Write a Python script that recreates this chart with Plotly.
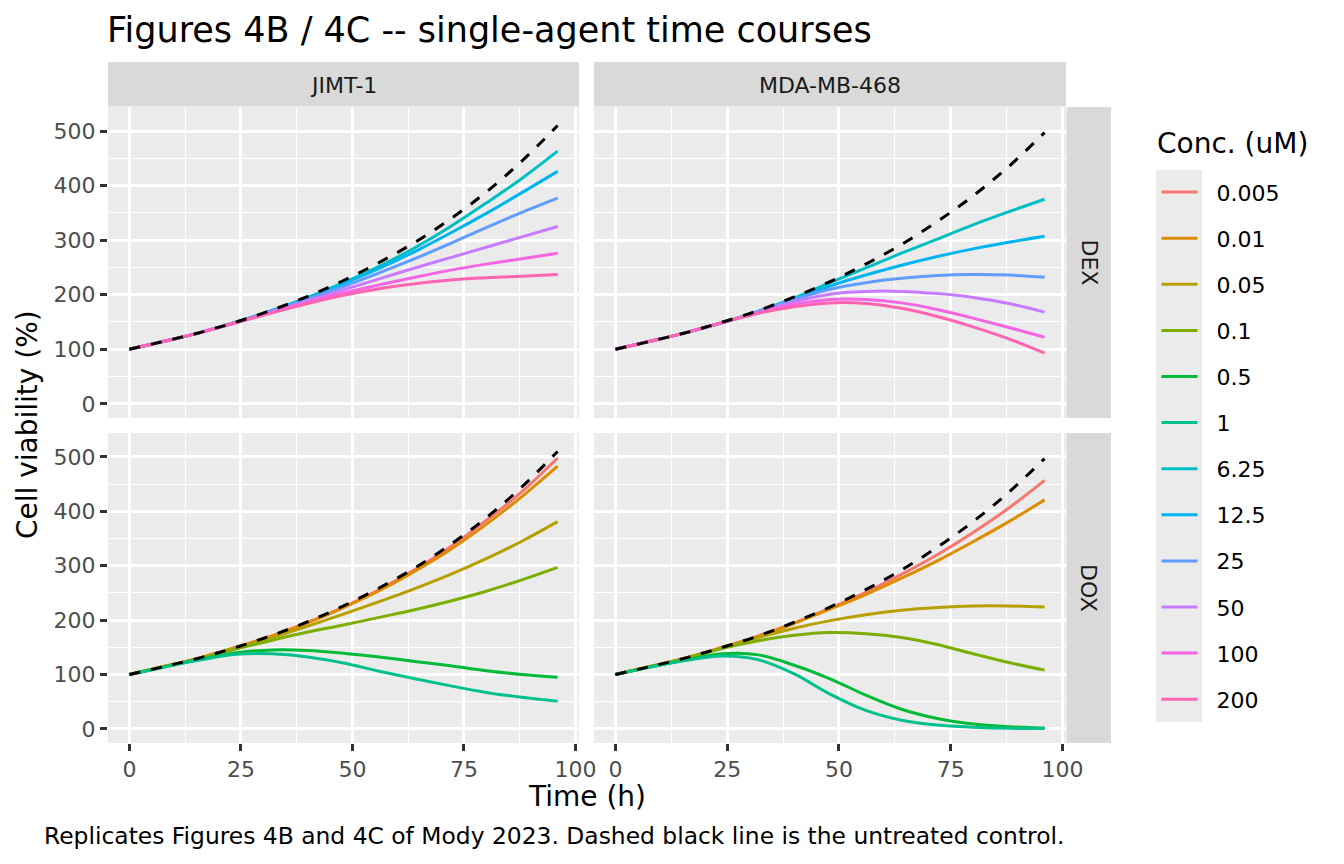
import plotly.graph_objects as go

# time points (h)
time_h = [0, 8, 16, 24, 32, 40, 48, 56, 64, 72, 80, 88, 96]

conc_labels = ["0.005", "0.01", "0.05", "0.1", "0.5", "1",
               "6.25", "12.5", "25", "50", "100", "200"]
conc_colors = ["#F8766D", "#DE8C00", "#B79F00", "#7CAE00", "#00BA38", "#00C08B",
               "#00BFC4", "#00B4F0", "#619CFF", "#C77CFF", "#F564E3", "#FF64B0"]

# untreated controls
jimt_control = [100, 115, 131, 150, 172, 197, 226, 259, 296, 339, 388, 445, 510]
mda_control = [100, 115, 131, 150, 171, 196, 224, 256, 292, 334, 381, 435, 497]

# JIMT-1, DEX
jimt_dex = {
    "6.25": [100, 115, 131, 150, 171, 195, 222, 252, 286, 325, 368, 413, 463],
    "12.5": [100, 115, 131, 150, 171, 194, 220, 248, 279, 313, 349, 387, 426],
    "25":   [100, 115, 131, 150, 170, 192, 215, 240, 266, 294, 323, 351, 377],
    "50":   [100, 115, 131, 149, 169, 189, 209, 229, 249, 268, 287, 306, 325],
    "100":  [100, 115, 131, 149, 168, 186, 203, 218, 232, 245, 256, 266, 276],
    "200":  [100, 115, 131, 149, 167, 184, 199, 211, 220, 227, 231, 234, 237],
}
# MDA-MB-468, DEX
mda_dex = {
    "6.25": [100, 115, 131, 149, 170, 194, 222, 249, 276, 302, 328, 352, 375],
    "12.5": [100, 115, 131, 149, 169, 192, 216, 236, 254, 270, 284, 296, 307],
    "25":   [100, 115, 131, 149, 169, 191, 210, 222, 230, 235, 237, 236, 232],
    "50":   [100, 115, 131, 149, 168, 187, 201, 206, 206, 202, 195, 184, 168],
    "100":  [100, 115, 131, 149, 167, 182, 191, 191, 185, 173, 157, 140, 122],
    "200":  [100, 115, 131, 149, 166, 178, 185, 184, 175, 160, 141, 119, 93],
}
# JIMT-1, DOX
jimt_dox = {
    "0.005": [100, 115, 131, 150, 171, 196, 224, 256, 293, 335, 383, 436, 498],
    "0.01":  [100, 115, 131, 150, 171, 195, 223, 254, 290, 330, 376, 427, 483],
    "0.05":  [100, 115, 131, 149, 168, 189, 211, 234, 258, 284, 313, 345, 381],
    "0.1":   [100, 115, 130, 147, 163, 178, 191, 205, 219, 235, 253, 274, 297],
    "0.5":   [100, 114, 128, 140, 145, 144, 139, 132, 124, 116, 107, 100, 95],
    "1":     [100, 114, 127, 137, 138, 132, 121, 106, 92, 79, 67, 58, 51],
}
# MDA-MB-468, DOX
mda_dox = {
    "0.005": [100, 115, 131, 150, 171, 195, 222, 251, 284, 320, 361, 406, 457],
    "0.01":  [100, 115, 131, 150, 170, 194, 220, 247, 277, 309, 344, 381, 421],
    "0.05":  [100, 115, 131, 149, 168, 185, 199, 210, 218, 223, 226, 226, 224],
    "0.1":   [100, 115, 130, 148, 162, 172, 177, 175, 168, 155, 138, 122, 108],
    "0.5":   [100, 114, 127, 138, 136, 117, 92, 62, 36, 19, 9, 4, 1],
    "1":     [100, 114, 126, 134, 127, 101, 64, 34, 16, 7, 3, 1, 1],
}

W, H = 1328, 848   # page adds an 8px body margin on each side
OFF = 8
FONT = "DejaVu Sans"
LW = 3


def px(x):
    return (x - OFF) / W


def py(y):
    return 1 - (y - OFF) / H


# panel boxes in page pixels
col_x = [(108, 579), (594, 1066)]
row_y = [(107, 418), (433, 743)]

panels = [
    (0, 0, jimt_dex, jimt_control),
    (0, 1, mda_dex, mda_control),
    (1, 0, jimt_dox, jimt_control),
    (1, 1, mda_dox, mda_control),
]

fig = go.Figure()
shown = set()
for i, (r, c, data, ctrl) in enumerate(panels):
    n = "" if i == 0 else str(i + 1)
    for lab, vals in data.items():
        k = conc_labels.index(lab)
        fig.add_trace(go.Scatter(
            x=time_h, y=vals, mode="lines",
            line=dict(color=conc_colors[k], width=LW, shape="spline", smoothing=1.0),
            name="\u00a0\u00a0" + lab, legendgroup=lab, legendrank=k + 1,
            showlegend=lab not in shown,
            xaxis="x" + n, yaxis="y" + n, hoverinfo="skip",
        ))
        shown.add(lab)
    # dashed untreated control on top
    fig.add_trace(go.Scatter(
        x=time_h, y=ctrl, mode="lines",
        line=dict(color="black", width=LW, dash="11px,11px", shape="spline", smoothing=1.0),
        name="control", showlegend=False,
        xaxis="x" + n, yaxis="y" + n, hoverinfo="skip",
    ))

tickfont = dict(family=FONT, size=22, color="#4D4D4D")
layout = dict(
    width=W, height=H,
    margin=dict(l=0, r=0, t=0, b=0),
    paper_bgcolor="white", plot_bgcolor="#EBEBEB",
    font=dict(family=FONT, color="black"),
    showlegend=True,
    legend=dict(
        x=px(1156.5), xanchor="left", y=py(171.3), yanchor="top",
        font=dict(family=FONT, size=22, color="black"),
        bgcolor="rgba(0,0,0,0)", tracegroupgap=14.5, itemwidth=36,
        itemclick=False, itemdoubleclick=False,
    ),
)

for i, (r, c, data, ctrl) in enumerate(panels):
    n = "" if i == 0 else str(i + 1)
    x0, x1 = col_x[c]
    ytop, ybot = row_y[r]
    layout["xaxis" + n] = dict(
        domain=[px(x0), px(x1)], anchor="y" + n, automargin=False,
        range=[-4.8, 100.8], tickvals=[0, 25, 50, 75, 100],
        showgrid=True, gridcolor="white", gridwidth=2.8,
        zeroline=False, showline=False,
        ticks="outside" if r == 1 else "", ticklen=7, tickwidth=2.8, tickcolor="#333333",
        showticklabels=(r == 1), tickfont=tickfont,
        minor=dict(tickmode="array", tickvals=[12.5, 37.5, 62.5, 87.5],
                   showgrid=True, gridcolor="white", gridwidth=1.4, ticks=""),
    )
    layout["yaxis" + n] = dict(
        domain=[py(ybot), py(ytop)], anchor="x" + n, automargin=False,
        range=[-26, 544], tickvals=[0, 100, 200, 300, 400, 500],
        showgrid=True, gridcolor="white", gridwidth=2.8,
        zeroline=False, showline=False,
        ticks="outside" if c == 0 else "", ticklen=7, tickwidth=2.8, tickcolor="#333333",
        showticklabels=(c == 0), tickfont=tickfont,
        minor=dict(tickmode="array", tickvals=[50, 150, 250, 350, 450],
                   showgrid=True, gridcolor="white", gridwidth=1.4, ticks=""),
    )

fig.update_layout(**layout)

# facet strips
strip_fill = "#D9D9D9"
shapes = []
annotations = []
col_names = ["JIMT-1", "MDA-MB-468"]
row_names = ["DEX", "DOX"]
for c, (x0, x1) in enumerate(col_x):
    shapes.append(dict(type="rect", xref="paper", yref="paper",
                       x0=px(x0), x1=px(x1), y0=py(106.5), y1=py(62),
                       fillcolor=strip_fill, line=dict(width=0), layer="below"))
    annotations.append(dict(text=col_names[c], xref="paper", yref="paper",
                            x=px((x0 + x1) / 2), y=py(85), showarrow=False,
                            xanchor="center", yanchor="middle",
                            font=dict(family=FONT, size=22, color="#1A1A1A")))
for r, (y0, y1) in enumerate(row_y):
    shapes.append(dict(type="rect", xref="paper", yref="paper",
                       x0=px(1066.5), x1=px(1111), y0=py(y1), y1=py(y0),
                       fillcolor=strip_fill, line=dict(width=0), layer="below"))
    annotations.append(dict(text=row_names[r], xref="paper", yref="paper",
                            x=px(1089), y=py((y0 + y1) / 2), showarrow=False,
                            textangle=90, xanchor="center", yanchor="middle",
                            font=dict(family=FONT, size=22, color="#1A1A1A")))

# legend key background
shapes.append(dict(type="rect", xref="paper", yref="paper",
                   x0=px(1156), x1=px(1202), y0=py(722), y1=py(170),
                   fillcolor="#EBEBEB", line=dict(width=0), layer="below"))

annotations += [
    dict(text="Figures 4B / 4C -- single-agent time courses", xref="paper", yref="paper",
         x=px(104.6), y=py(30), xanchor="left", yanchor="middle", showarrow=False,
         font=dict(family=FONT, size=35, color="black")),
    dict(text="Time (h)", xref="paper", yref="paper",
         x=px(587), y=py(796), xanchor="center", yanchor="middle", showarrow=False,
         font=dict(family=FONT, size=28, color="black")),
    dict(text="Cell viability (%)", xref="paper", yref="paper",
         x=px(27), y=py(425), xanchor="center", yanchor="middle", showarrow=False,
         textangle=-90, font=dict(family=FONT, size=28, color="black")),
    dict(text="Replicates Figures 4B and 4C of Mody 2023. Dashed black line is the untreated control.",
         xref="paper", yref="paper", x=px(1066), y=py(836), xanchor="right", yanchor="middle",
         showarrow=False, font=dict(family=FONT, size=23.4, color="black")),
    dict(text="Conc. (uM)", xref="paper", yref="paper",
         x=px(1155), y=py(143), xanchor="left", yanchor="middle", showarrow=False,
         font=dict(family=FONT, size=28, color="black")),
]
fig.update_layout(shapes=shapes, annotations=annotations)

fig.write_html("out.html")
